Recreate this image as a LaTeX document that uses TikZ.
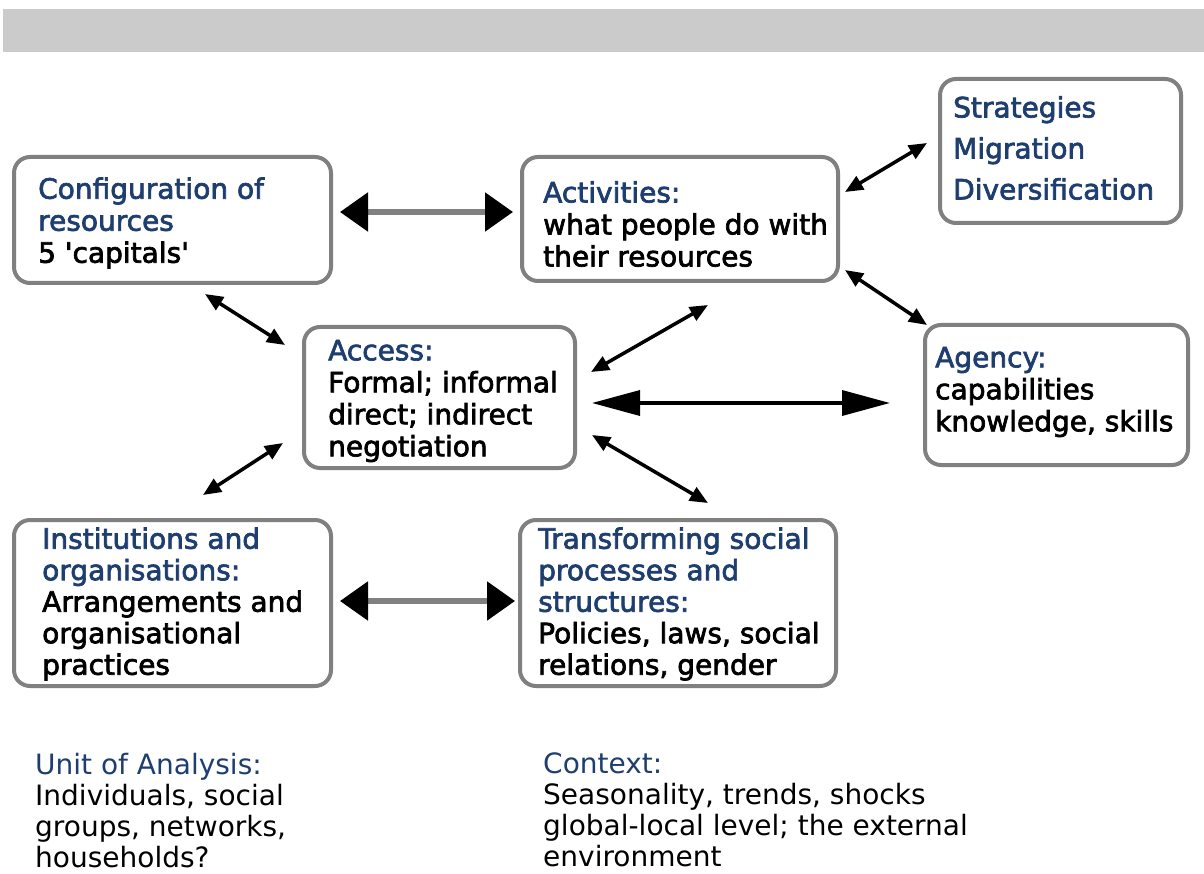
\documentclass[tikz,border=0pt]{standalone}
\usepackage{fontspec}
\setmainfont{DejaVu Sans}
\newfontfamily\boxfont{DejaVu Sans}[FakeBold=2.5]
\usetikzlibrary{arrows.meta}
\definecolor{titleblue}{RGB}{31,62,112}
\definecolor{boxgray}{RGB}{128,128,128}
\definecolor{bandgray}{RGB}{203,203,203}
\tikzset{
  box/.style={draw=boxgray, line width=4pt, rounded corners=16pt, inner sep=0pt},
  txt/.style={anchor=west, align=left, inner sep=0pt, font=\boxfont\fontsize{28}{32}\selectfont},
  note/.style={anchor=north west, align=left, inner sep=0pt, font=\fontsize{28}{31}\selectfont},
  grayarrow/.style={draw=boxgray, line width=5.5pt, {Triangle[length=28pt,width=38pt,color=black]}-{Triangle[length=28pt,width=38pt,color=black]}},
  longarrow/.style={line width=3.5pt, {Triangle[length=48pt,width=25pt]}-{Triangle[length=48pt,width=25pt]}},
  smallarrow/.style={line width=3.5pt, {Triangle[length=18pt,width=15pt]}-{Triangle[length=18pt,width=15pt]}}
}
\begin{document}
\begin{tikzpicture}[x=1pt,y=-1pt]
\useasboundingbox (0,0) rectangle (1204,874);
\fill[bandgray] (3,9) rectangle (1204,52);

\node[box, minimum width=317pt, minimum height=126pt] (config) at (172.5,220) {};
\node[txt] (configtext) at (38,223) {\textcolor{titleblue}{Configuration of}\\\textcolor{titleblue}{resources}\\5 \textquotesingle capitals\textquotesingle};
\node[box, minimum width=316pt, minimum height=124pt] (activities) at (680,219) {};
\node[txt] (activitiestext) at (543,224) {\textcolor{titleblue}{Activities:}\\what people do with\\their resources};
\node[box, minimum width=241pt, minimum height=144pt] (strategies) at (1060.5,151) {};
\node[txt, font=\boxfont\fontsize{28}{41}\selectfont, text=titleblue] (strategiestext) at (953,148) {Strategies\\Migration\\Diversification};
\node[box, minimum width=271pt, minimum height=141pt] (access) at (439.5,397.5) {};
\node[txt] (accesstext) at (328,401) {\textcolor{titleblue}{Access:}\\Formal; informal\\direct; indirect\\negotiation};
\node[box, minimum width=263pt, minimum height=140pt] (agency) at (1056.5,395) {};
\node[txt] (agencytext) at (935,392) {\textcolor{titleblue}{Agency:}\\capabilities\\knowledge, skills};
\node[box, minimum width=317pt, minimum height=166pt] (institutions) at (172.5,603) {};
\node[txt, font=\boxfont\fontsize{28}{31.5}\selectfont] (institutionstext) at (42,604) {\textcolor{titleblue}{Institutions and}\\\textcolor{titleblue}{organisations:}\\Arrangements and\\organisational\\practices};
\node[box, minimum width=316pt, minimum height=166pt] (transforming) at (678,603) {};
\node[txt, font=\boxfont\fontsize{28}{31.5}\selectfont] (transformingtext) at (538,604) {\textcolor{titleblue}{Transforming social}\\\textcolor{titleblue}{processes and}\\\textcolor{titleblue}{structures:}\\Policies, laws, social\\relations, gender};

\node[note] (unit) at (35,753) {\textcolor{titleblue}{Unit of Analysis:}\\Individuals, social\\groups, networks,\\households?};
\node[note] (context) at (543,753) {\textcolor{titleblue}{Context:}\\Seasonality, trends, shocks\\global-local level; the external\\environment};

\draw[grayarrow, shorten <=7pt, shorten >=7pt] ([yshift=8pt]config.east) -- ([yshift=8pt]config.east -| activities.west);
\draw[grayarrow, shorten <=7pt, shorten >=3pt] ([yshift=2pt]institutions.east) -- ([yshift=2pt]institutions.east -| transforming.west);
\draw[longarrow, shorten <=15pt, shorten >=33pt] ([yshift=-5.5pt]access.east) -- ([yshift=-5.5pt]access.east -| agency.west);

\coordinate (ca) at (205,294);
\coordinate (cb) at (285,345);
\coordinate (ia) at (283,443);
\coordinate (ib) at (203,495);
\coordinate (aa) at (591,372);
\coordinate (ab) at (708,305);
\coordinate (ta) at (592,435);
\coordinate (tb) at (708,503);
\coordinate (sa) at (845,192);
\coordinate (sb) at (927,143);
\coordinate (ga) at (845,270);
\coordinate (gb) at (927,325);
\draw[smallarrow] (ca) -- (cb);
\draw[smallarrow] (ia) -- (ib);
\draw[smallarrow] (aa) -- (ab);
\draw[smallarrow] (ta) -- (tb);
\draw[smallarrow] (sa) -- (sb);
\draw[smallarrow] (ga) -- (gb);
\end{tikzpicture}
\end{document}
